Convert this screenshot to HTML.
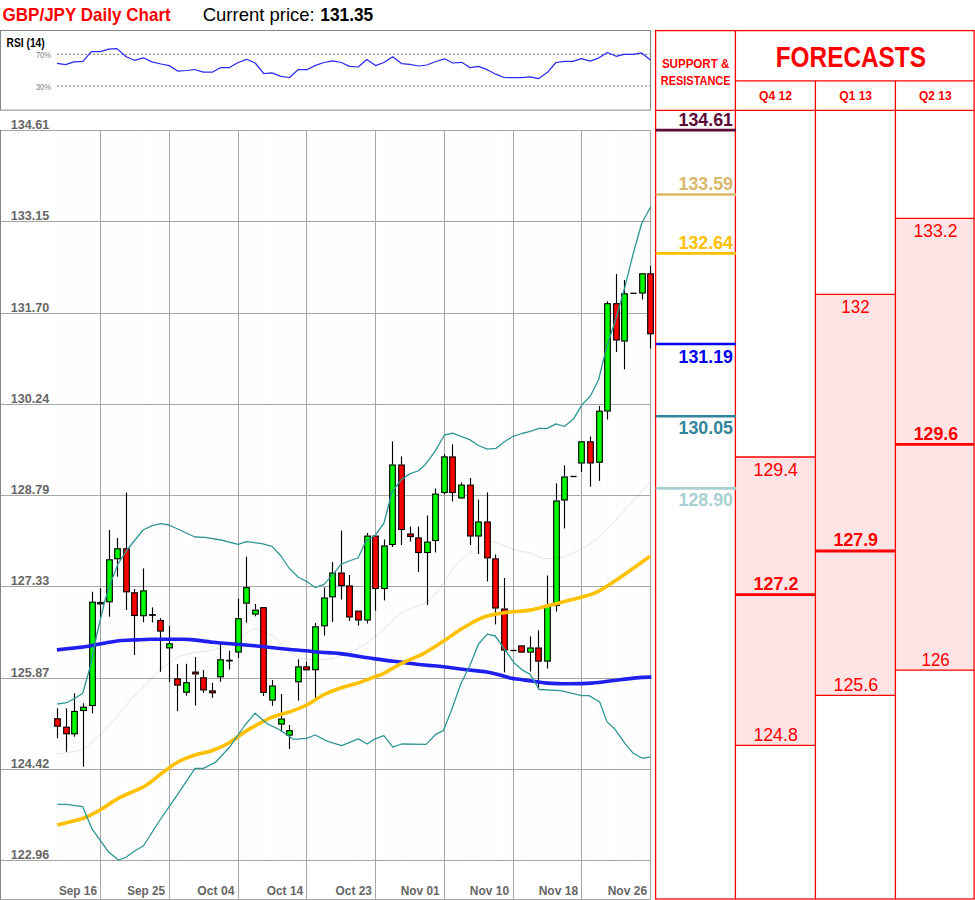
<!DOCTYPE html>
<html><head><meta charset="utf-8">
<style>
html,body{margin:0;padding:0;background:#fff;}
body{width:975px;height:900px;overflow:hidden;}
svg{display:block;font-family:"Liberation Sans", sans-serif;}
</style></head>
<body>
<svg width="975" height="900" viewBox="0 0 975 900">
<text x="2.5" y="20.9" font-size="18.5" fill="#ff0000" font-weight="bold" text-anchor="start" textLength="168.2" lengthAdjust="spacingAndGlyphs" >GBP/JPY Daily Chart</text>
<text x="202.7" y="20.9" font-size="18.5" fill="#000" font-weight="normal" text-anchor="start" textLength="112" lengthAdjust="spacingAndGlyphs" >Current price:</text>
<text x="320.3" y="20.9" font-size="18.5" fill="#000" font-weight="bold" text-anchor="start" textLength="52.9" lengthAdjust="spacingAndGlyphs" >131.35</text>
<rect x="0.5" y="30.5" width="650" height="79.6" fill="#fff" stroke="#868686" stroke-width="1"/>
<text x="6.6" y="47.2" font-size="11.9" fill="#000" font-weight="bold" text-anchor="start" textLength="38.1" lengthAdjust="spacingAndGlyphs" >RSI (14)</text>
<text x="35.9" y="58.2" font-size="9" fill="#808080" font-weight="normal" text-anchor="start" textLength="15" lengthAdjust="spacingAndGlyphs" >70%</text>
<text x="35.9" y="90.2" font-size="9" fill="#808080" font-weight="normal" text-anchor="start" textLength="15" lengthAdjust="spacingAndGlyphs" >30%</text>
<line x1="57" y1="54.3" x2="650" y2="54.3" stroke="#7f7f7f" stroke-width="1" stroke-dasharray="2.2,1.8"/>
<line x1="57" y1="86.1" x2="650" y2="86.1" stroke="#7f7f7f" stroke-width="1" stroke-dasharray="2.2,1.8"/>
<polyline points="57.0,63.4 65.6,64.6 73.8,61.9 83.0,61.3 91.3,51.7 100.5,51.7 108.7,49.2 116.9,48.6 126.2,56.8 134.4,60.3 143.6,57.8 151.8,61.9 161.0,64.0 169.2,65.6 178.0,71.2 186.7,70.5 194.5,69.5 203.3,72.2 212.2,72.2 220.8,67.5 229.4,67.5 238.2,62.5 246.8,59.3 255.2,63.0 263.8,73.6 272.0,72.8 280.9,76.3 289.5,77.5 298.1,69.7 306.9,69.7 315.5,65.4 324.0,62.5 332.6,60.9 341.2,62.5 349.6,66.4 358.2,67.0 366.8,59.5 375.6,65.6 383.8,62.5 392.7,56.8 401.5,63.6 409.7,64.4 418.6,66.0 426.8,65.0 435.8,61.5 444.6,58.8 452.8,63.0 461.6,62.3 470.3,67.7 478.5,66.4 487.1,69.7 495.9,74.2 504.1,77.5 513.3,77.7 521.5,77.7 530.2,76.9 538.4,78.7 547.2,72.6 556.0,62.5 564.6,61.3 572.8,61.4 581.5,58.6 590.3,61.1 599.0,57.8 607.4,52.5 616.2,56.3 624.1,54.4 632.8,54.4 641.5,52.9 650.5,59.9" fill="none" stroke="#2a2af5" stroke-width="1.25" stroke-linejoin="round"/>
<line x1="57.50" y1="130" x2="57.50" y2="860" stroke="#fbfbfb" stroke-width="1"/>
<line x1="66.50" y1="130" x2="66.50" y2="860" stroke="#fbfbfb" stroke-width="1"/>
<line x1="74.50" y1="130" x2="74.50" y2="860" stroke="#fbfbfb" stroke-width="1"/>
<line x1="83.50" y1="130" x2="83.50" y2="860" stroke="#fbfbfb" stroke-width="1"/>
<line x1="92.50" y1="130" x2="92.50" y2="860" stroke="#fbfbfb" stroke-width="1"/>
<line x1="100.50" y1="130" x2="100.50" y2="860" stroke="#fbfbfb" stroke-width="1"/>
<line x1="109.50" y1="130" x2="109.50" y2="860" stroke="#fbfbfb" stroke-width="1"/>
<line x1="117.50" y1="130" x2="117.50" y2="860" stroke="#fbfbfb" stroke-width="1"/>
<line x1="126.50" y1="130" x2="126.50" y2="860" stroke="#fbfbfb" stroke-width="1"/>
<line x1="134.50" y1="130" x2="134.50" y2="860" stroke="#fbfbfb" stroke-width="1"/>
<line x1="143.50" y1="130" x2="143.50" y2="860" stroke="#fbfbfb" stroke-width="1"/>
<line x1="152.50" y1="130" x2="152.50" y2="860" stroke="#fbfbfb" stroke-width="1"/>
<line x1="160.50" y1="130" x2="160.50" y2="860" stroke="#fbfbfb" stroke-width="1"/>
<line x1="169.50" y1="130" x2="169.50" y2="860" stroke="#fbfbfb" stroke-width="1"/>
<line x1="177.50" y1="130" x2="177.50" y2="860" stroke="#fbfbfb" stroke-width="1"/>
<line x1="186.50" y1="130" x2="186.50" y2="860" stroke="#fbfbfb" stroke-width="1"/>
<line x1="195.50" y1="130" x2="195.50" y2="860" stroke="#fbfbfb" stroke-width="1"/>
<line x1="203.50" y1="130" x2="203.50" y2="860" stroke="#fbfbfb" stroke-width="1"/>
<line x1="212.50" y1="130" x2="212.50" y2="860" stroke="#fbfbfb" stroke-width="1"/>
<line x1="220.50" y1="130" x2="220.50" y2="860" stroke="#fbfbfb" stroke-width="1"/>
<line x1="229.50" y1="130" x2="229.50" y2="860" stroke="#fbfbfb" stroke-width="1"/>
<line x1="238.50" y1="130" x2="238.50" y2="860" stroke="#fbfbfb" stroke-width="1"/>
<line x1="246.50" y1="130" x2="246.50" y2="860" stroke="#fbfbfb" stroke-width="1"/>
<line x1="255.50" y1="130" x2="255.50" y2="860" stroke="#fbfbfb" stroke-width="1"/>
<line x1="263.50" y1="130" x2="263.50" y2="860" stroke="#fbfbfb" stroke-width="1"/>
<line x1="272.50" y1="130" x2="272.50" y2="860" stroke="#fbfbfb" stroke-width="1"/>
<line x1="281.50" y1="130" x2="281.50" y2="860" stroke="#fbfbfb" stroke-width="1"/>
<line x1="289.50" y1="130" x2="289.50" y2="860" stroke="#fbfbfb" stroke-width="1"/>
<line x1="298.50" y1="130" x2="298.50" y2="860" stroke="#fbfbfb" stroke-width="1"/>
<line x1="306.50" y1="130" x2="306.50" y2="860" stroke="#fbfbfb" stroke-width="1"/>
<line x1="315.50" y1="130" x2="315.50" y2="860" stroke="#fbfbfb" stroke-width="1"/>
<line x1="324.50" y1="130" x2="324.50" y2="860" stroke="#fbfbfb" stroke-width="1"/>
<line x1="332.50" y1="130" x2="332.50" y2="860" stroke="#fbfbfb" stroke-width="1"/>
<line x1="341.50" y1="130" x2="341.50" y2="860" stroke="#fbfbfb" stroke-width="1"/>
<line x1="349.50" y1="130" x2="349.50" y2="860" stroke="#fbfbfb" stroke-width="1"/>
<line x1="358.50" y1="130" x2="358.50" y2="860" stroke="#fbfbfb" stroke-width="1"/>
<line x1="367.50" y1="130" x2="367.50" y2="860" stroke="#fbfbfb" stroke-width="1"/>
<line x1="375.50" y1="130" x2="375.50" y2="860" stroke="#fbfbfb" stroke-width="1"/>
<line x1="384.50" y1="130" x2="384.50" y2="860" stroke="#fbfbfb" stroke-width="1"/>
<line x1="392.50" y1="130" x2="392.50" y2="860" stroke="#fbfbfb" stroke-width="1"/>
<line x1="401.50" y1="130" x2="401.50" y2="860" stroke="#fbfbfb" stroke-width="1"/>
<line x1="410.50" y1="130" x2="410.50" y2="860" stroke="#fbfbfb" stroke-width="1"/>
<line x1="418.50" y1="130" x2="418.50" y2="860" stroke="#fbfbfb" stroke-width="1"/>
<line x1="427.50" y1="130" x2="427.50" y2="860" stroke="#fbfbfb" stroke-width="1"/>
<line x1="435.50" y1="130" x2="435.50" y2="860" stroke="#fbfbfb" stroke-width="1"/>
<line x1="444.50" y1="130" x2="444.50" y2="860" stroke="#fbfbfb" stroke-width="1"/>
<line x1="452.50" y1="130" x2="452.50" y2="860" stroke="#fbfbfb" stroke-width="1"/>
<line x1="461.50" y1="130" x2="461.50" y2="860" stroke="#fbfbfb" stroke-width="1"/>
<line x1="470.50" y1="130" x2="470.50" y2="860" stroke="#fbfbfb" stroke-width="1"/>
<line x1="478.50" y1="130" x2="478.50" y2="860" stroke="#fbfbfb" stroke-width="1"/>
<line x1="487.50" y1="130" x2="487.50" y2="860" stroke="#fbfbfb" stroke-width="1"/>
<line x1="495.50" y1="130" x2="495.50" y2="860" stroke="#fbfbfb" stroke-width="1"/>
<line x1="504.50" y1="130" x2="504.50" y2="860" stroke="#fbfbfb" stroke-width="1"/>
<line x1="513.50" y1="130" x2="513.50" y2="860" stroke="#fbfbfb" stroke-width="1"/>
<line x1="521.50" y1="130" x2="521.50" y2="860" stroke="#fbfbfb" stroke-width="1"/>
<line x1="530.50" y1="130" x2="530.50" y2="860" stroke="#fbfbfb" stroke-width="1"/>
<line x1="538.50" y1="130" x2="538.50" y2="860" stroke="#fbfbfb" stroke-width="1"/>
<line x1="547.50" y1="130" x2="547.50" y2="860" stroke="#fbfbfb" stroke-width="1"/>
<line x1="556.50" y1="130" x2="556.50" y2="860" stroke="#fbfbfb" stroke-width="1"/>
<line x1="564.50" y1="130" x2="564.50" y2="860" stroke="#fbfbfb" stroke-width="1"/>
<line x1="573.50" y1="130" x2="573.50" y2="860" stroke="#fbfbfb" stroke-width="1"/>
<line x1="581.50" y1="130" x2="581.50" y2="860" stroke="#fbfbfb" stroke-width="1"/>
<line x1="590.50" y1="130" x2="590.50" y2="860" stroke="#fbfbfb" stroke-width="1"/>
<line x1="599.50" y1="130" x2="599.50" y2="860" stroke="#fbfbfb" stroke-width="1"/>
<line x1="607.50" y1="130" x2="607.50" y2="860" stroke="#fbfbfb" stroke-width="1"/>
<line x1="616.50" y1="130" x2="616.50" y2="860" stroke="#fbfbfb" stroke-width="1"/>
<line x1="624.50" y1="130" x2="624.50" y2="860" stroke="#fbfbfb" stroke-width="1"/>
<line x1="633.50" y1="130" x2="633.50" y2="860" stroke="#fbfbfb" stroke-width="1"/>
<line x1="642.50" y1="130" x2="642.50" y2="860" stroke="#fbfbfb" stroke-width="1"/>
<line x1="650.50" y1="130" x2="650.50" y2="860" stroke="#fbfbfb" stroke-width="1"/>
<line x1="0" y1="130.5" x2="651" y2="130.5" stroke="#a6a6a6" stroke-width="1"/>
<line x1="0" y1="221.5" x2="651" y2="221.5" stroke="#a6a6a6" stroke-width="1"/>
<line x1="0" y1="313.5" x2="651" y2="313.5" stroke="#a6a6a6" stroke-width="1"/>
<line x1="0" y1="404.5" x2="651" y2="404.5" stroke="#a6a6a6" stroke-width="1"/>
<line x1="0" y1="495.5" x2="651" y2="495.5" stroke="#a6a6a6" stroke-width="1"/>
<line x1="0" y1="586.5" x2="651" y2="586.5" stroke="#a6a6a6" stroke-width="1"/>
<line x1="0" y1="678.5" x2="651" y2="678.5" stroke="#a6a6a6" stroke-width="1"/>
<line x1="0" y1="769.5" x2="651" y2="769.5" stroke="#a6a6a6" stroke-width="1"/>
<line x1="0" y1="860.5" x2="651" y2="860.5" stroke="#a6a6a6" stroke-width="1"/>
<line x1="100.5" y1="130" x2="100.5" y2="899" stroke="#a6a6a6" stroke-width="1"/>
<line x1="169.5" y1="130" x2="169.5" y2="899" stroke="#a6a6a6" stroke-width="1"/>
<line x1="238.5" y1="130" x2="238.5" y2="899" stroke="#a6a6a6" stroke-width="1"/>
<line x1="306.5" y1="130" x2="306.5" y2="899" stroke="#a6a6a6" stroke-width="1"/>
<line x1="375.5" y1="130" x2="375.5" y2="899" stroke="#a6a6a6" stroke-width="1"/>
<line x1="444.5" y1="130" x2="444.5" y2="899" stroke="#a6a6a6" stroke-width="1"/>
<line x1="513.5" y1="130" x2="513.5" y2="899" stroke="#a6a6a6" stroke-width="1"/>
<line x1="581.5" y1="130" x2="581.5" y2="899" stroke="#a6a6a6" stroke-width="1"/>
<line x1="0.5" y1="130" x2="0.5" y2="899" stroke="#868686" stroke-width="1"/>
<line x1="650.5" y1="130" x2="650.5" y2="899" stroke="#a6a6a6" stroke-width="1"/>
<line x1="0" y1="899.5" x2="651" y2="899.5" stroke="#a6a6a6" stroke-width="1"/>
<text x="49.3" y="129.2" font-size="12.6" fill="#666666" font-weight="bold" text-anchor="end" textLength="38.5" lengthAdjust="spacingAndGlyphs" >134.61</text>
<text x="49.3" y="220.2" font-size="12.6" fill="#666666" font-weight="bold" text-anchor="end" textLength="38.5" lengthAdjust="spacingAndGlyphs" >133.15</text>
<text x="49.3" y="312.2" font-size="12.6" fill="#666666" font-weight="bold" text-anchor="end" textLength="38.5" lengthAdjust="spacingAndGlyphs" >131.70</text>
<text x="49.3" y="403.2" font-size="12.6" fill="#666666" font-weight="bold" text-anchor="end" textLength="38.5" lengthAdjust="spacingAndGlyphs" >130.24</text>
<text x="49.3" y="494.2" font-size="12.6" fill="#666666" font-weight="bold" text-anchor="end" textLength="38.5" lengthAdjust="spacingAndGlyphs" >128.79</text>
<text x="49.3" y="585.2" font-size="12.6" fill="#666666" font-weight="bold" text-anchor="end" textLength="38.5" lengthAdjust="spacingAndGlyphs" >127.33</text>
<text x="49.3" y="677.2" font-size="12.6" fill="#666666" font-weight="bold" text-anchor="end" textLength="38.5" lengthAdjust="spacingAndGlyphs" >125.87</text>
<text x="49.3" y="768.2" font-size="12.6" fill="#666666" font-weight="bold" text-anchor="end" textLength="38.5" lengthAdjust="spacingAndGlyphs" >124.42</text>
<text x="49.3" y="859.2" font-size="12.6" fill="#666666" font-weight="bold" text-anchor="end" textLength="38.5" lengthAdjust="spacingAndGlyphs" >122.96</text>
<text x="97" y="894.9" font-size="12.8" fill="#666666" font-weight="bold" text-anchor="end" textLength="38.1" lengthAdjust="spacingAndGlyphs" >Sep 16</text>
<text x="165" y="894.9" font-size="12.8" fill="#666666" font-weight="bold" text-anchor="end" textLength="37.7" lengthAdjust="spacingAndGlyphs" >Sep 25</text>
<text x="234.6" y="894.9" font-size="12.8" fill="#666666" font-weight="bold" text-anchor="end" textLength="37.3" lengthAdjust="spacingAndGlyphs" >Oct 04</text>
<text x="303.2" y="894.9" font-size="12.8" fill="#666666" font-weight="bold" text-anchor="end" textLength="36.5" lengthAdjust="spacingAndGlyphs" >Oct 14</text>
<text x="372" y="894.9" font-size="12.8" fill="#666666" font-weight="bold" text-anchor="end" textLength="36.4" lengthAdjust="spacingAndGlyphs" >Oct 23</text>
<text x="439.7" y="894.9" font-size="12.8" fill="#666666" font-weight="bold" text-anchor="end" textLength="38.9" lengthAdjust="spacingAndGlyphs" >Nov 01</text>
<text x="509.1" y="894.9" font-size="12.8" fill="#666666" font-weight="bold" text-anchor="end" textLength="39.3" lengthAdjust="spacingAndGlyphs" >Nov 10</text>
<text x="578.1" y="894.9" font-size="12.8" fill="#666666" font-weight="bold" text-anchor="end" textLength="39.4" lengthAdjust="spacingAndGlyphs" >Nov 18</text>
<text x="647.1" y="894.9" font-size="12.8" fill="#666666" font-weight="bold" text-anchor="end" textLength="39.4" lengthAdjust="spacingAndGlyphs" >Nov 26</text>
<line x1="57.5" y1="708.3" x2="57.5" y2="718.3" stroke="#000" stroke-width="1.15"/>
<line x1="57.5" y1="726.7" x2="57.5" y2="738.3" stroke="#000" stroke-width="1.15"/>
<rect x="54.70" y="718.8" width="5.6" height="7.4" fill="#ff0000" stroke="#000" stroke-width="1.15"/>
<line x1="66.5" y1="708.3" x2="66.5" y2="726.7" stroke="#000" stroke-width="1.15"/>
<line x1="66.5" y1="734.3" x2="66.5" y2="751.7" stroke="#000" stroke-width="1.15"/>
<rect x="63.70" y="727.2" width="5.6" height="6.6" fill="#ff0000" stroke="#000" stroke-width="1.15"/>
<line x1="74.5" y1="693.3" x2="74.5" y2="711" stroke="#000" stroke-width="1.15"/>
<line x1="74.5" y1="734.3" x2="74.5" y2="736.7" stroke="#000" stroke-width="1.15"/>
<rect x="71.70" y="711.5" width="5.6" height="22.3" fill="#00ff00" stroke="#000" stroke-width="1.15"/>
<line x1="83.5" y1="703.3" x2="83.5" y2="706.7" stroke="#000" stroke-width="1.15"/>
<line x1="83.5" y1="711" x2="83.5" y2="766.7" stroke="#000" stroke-width="1.15"/>
<rect x="80.70" y="707.2" width="5.6" height="3.3" fill="#00ff00" stroke="#000" stroke-width="1.15"/>
<line x1="92.5" y1="591.7" x2="92.5" y2="601.7" stroke="#000" stroke-width="1.15"/>
<line x1="92.5" y1="706" x2="92.5" y2="713.3" stroke="#000" stroke-width="1.15"/>
<rect x="89.70" y="602.2" width="5.6" height="103.3" fill="#00ff00" stroke="#000" stroke-width="1.15"/>
<line x1="100.5" y1="588" x2="100.5" y2="602.0" stroke="#000" stroke-width="1.15"/>
<line x1="100.5" y1="604.4" x2="100.5" y2="617" stroke="#000" stroke-width="1.15"/>
<rect x="97.70" y="602.5" width="5.6" height="1.4" fill="#00ff00" stroke="#000" stroke-width="1.15"/>
<line x1="109.5" y1="530" x2="109.5" y2="559.3" stroke="#000" stroke-width="1.15"/>
<line x1="109.5" y1="602.3" x2="109.5" y2="616.7" stroke="#000" stroke-width="1.15"/>
<rect x="106.70" y="559.8" width="5.6" height="42.0" fill="#00ff00" stroke="#000" stroke-width="1.15"/>
<line x1="117.5" y1="538" x2="117.5" y2="548.3" stroke="#000" stroke-width="1.15"/>
<line x1="117.5" y1="559.3" x2="117.5" y2="576.7" stroke="#000" stroke-width="1.15"/>
<rect x="114.70" y="548.8" width="5.6" height="10.0" fill="#00ff00" stroke="#000" stroke-width="1.15"/>
<line x1="126.5" y1="492.7" x2="126.5" y2="548.3" stroke="#000" stroke-width="1.15"/>
<line x1="126.5" y1="592.3" x2="126.5" y2="610" stroke="#000" stroke-width="1.15"/>
<rect x="123.70" y="548.8" width="5.6" height="43.0" fill="#ff0000" stroke="#000" stroke-width="1.15"/>
<line x1="134.5" y1="589" x2="134.5" y2="592.3" stroke="#000" stroke-width="1.15"/>
<line x1="134.5" y1="616" x2="134.5" y2="655" stroke="#000" stroke-width="1.15"/>
<rect x="131.70" y="592.8" width="5.6" height="22.7" fill="#ff0000" stroke="#000" stroke-width="1.15"/>
<line x1="143.5" y1="568.4" x2="143.5" y2="590.4" stroke="#000" stroke-width="1.15"/>
<line x1="143.5" y1="616.2" x2="143.5" y2="622.2" stroke="#000" stroke-width="1.15"/>
<rect x="140.70" y="590.9" width="5.6" height="24.8" fill="#00ff00" stroke="#000" stroke-width="1.15"/>
<line x1="152.5" y1="607.4" x2="152.5" y2="622.4" stroke="#000" stroke-width="1.15"/>
<line x1="149.20" y1="615.0" x2="155.80" y2="615.0" stroke="#000" stroke-width="1.8"/>
<line x1="160.5" y1="618.2" x2="160.5" y2="620" stroke="#000" stroke-width="1.15"/>
<line x1="160.5" y1="631.6" x2="160.5" y2="671.8" stroke="#000" stroke-width="1.15"/>
<rect x="157.70" y="620.5" width="5.6" height="10.6" fill="#ff0000" stroke="#000" stroke-width="1.15"/>
<line x1="169.5" y1="626" x2="169.5" y2="643.3" stroke="#000" stroke-width="1.15"/>
<line x1="169.5" y1="648.4" x2="169.5" y2="681.8" stroke="#000" stroke-width="1.15"/>
<rect x="166.70" y="643.8" width="5.6" height="4.1" fill="#00ff00" stroke="#000" stroke-width="1.15"/>
<line x1="177.5" y1="664" x2="177.5" y2="678.4" stroke="#000" stroke-width="1.15"/>
<line x1="177.5" y1="685.6" x2="177.5" y2="711.1" stroke="#000" stroke-width="1.15"/>
<rect x="174.70" y="678.9" width="5.6" height="6.2" fill="#ff0000" stroke="#000" stroke-width="1.15"/>
<line x1="186.5" y1="663.8" x2="186.5" y2="682.2" stroke="#000" stroke-width="1.15"/>
<line x1="186.5" y1="692.7" x2="186.5" y2="695.6" stroke="#000" stroke-width="1.15"/>
<rect x="183.70" y="682.7" width="5.6" height="9.5" fill="#00ff00" stroke="#000" stroke-width="1.15"/>
<line x1="195.5" y1="657" x2="195.5" y2="671.6" stroke="#000" stroke-width="1.15"/>
<line x1="195.5" y1="674.4" x2="195.5" y2="705.6" stroke="#000" stroke-width="1.15"/>
<rect x="192.70" y="672.1" width="5.6" height="1.8" fill="#ff0000" stroke="#000" stroke-width="1.15"/>
<line x1="203.5" y1="670" x2="203.5" y2="677.3" stroke="#000" stroke-width="1.15"/>
<line x1="203.5" y1="690.4" x2="203.5" y2="692.9" stroke="#000" stroke-width="1.15"/>
<rect x="200.70" y="677.8" width="5.6" height="12.1" fill="#ff0000" stroke="#000" stroke-width="1.15"/>
<line x1="212.5" y1="682.9" x2="212.5" y2="690.4" stroke="#000" stroke-width="1.15"/>
<line x1="212.5" y1="693.3" x2="212.5" y2="697.8" stroke="#000" stroke-width="1.15"/>
<rect x="209.70" y="690.9" width="5.6" height="1.9" fill="#ff0000" stroke="#000" stroke-width="1.15"/>
<line x1="220.5" y1="644" x2="220.5" y2="659.3" stroke="#000" stroke-width="1.15"/>
<line x1="220.5" y1="677.3" x2="220.5" y2="681.8" stroke="#000" stroke-width="1.15"/>
<rect x="217.70" y="659.8" width="5.6" height="17.0" fill="#00ff00" stroke="#000" stroke-width="1.15"/>
<line x1="229.5" y1="650.7" x2="229.5" y2="669.6" stroke="#000" stroke-width="1.15"/>
<line x1="226.20" y1="660.6" x2="232.80" y2="660.6" stroke="#000" stroke-width="1.8"/>
<line x1="238.5" y1="598.7" x2="238.5" y2="618.2" stroke="#000" stroke-width="1.15"/>
<line x1="238.5" y1="652.5" x2="238.5" y2="657.8" stroke="#000" stroke-width="1.15"/>
<rect x="235.70" y="618.7" width="5.6" height="33.3" fill="#00ff00" stroke="#000" stroke-width="1.15"/>
<line x1="246.5" y1="556.6" x2="246.5" y2="587.2" stroke="#000" stroke-width="1.15"/>
<line x1="246.5" y1="603.6" x2="246.5" y2="622.6" stroke="#000" stroke-width="1.15"/>
<rect x="243.70" y="587.7" width="5.6" height="15.4" fill="#00ff00" stroke="#000" stroke-width="1.15"/>
<line x1="255.5" y1="604" x2="255.5" y2="609.7" stroke="#000" stroke-width="1.15"/>
<line x1="255.5" y1="614.6" x2="255.5" y2="616.3" stroke="#000" stroke-width="1.15"/>
<rect x="252.70" y="610.2" width="5.6" height="3.9" fill="#00ff00" stroke="#000" stroke-width="1.15"/>
<line x1="263.5" y1="692.8" x2="263.5" y2="696" stroke="#000" stroke-width="1.15"/>
<rect x="260.70" y="607.7" width="5.6" height="84.6" fill="#ff0000" stroke="#000" stroke-width="1.15"/>
<line x1="272.5" y1="680" x2="272.5" y2="685.5" stroke="#000" stroke-width="1.15"/>
<line x1="272.5" y1="700.6" x2="272.5" y2="705.8" stroke="#000" stroke-width="1.15"/>
<rect x="269.70" y="686.0" width="5.6" height="14.1" fill="#00ff00" stroke="#000" stroke-width="1.15"/>
<line x1="281.5" y1="694" x2="281.5" y2="718.5" stroke="#000" stroke-width="1.15"/>
<line x1="281.5" y1="724.6" x2="281.5" y2="732" stroke="#000" stroke-width="1.15"/>
<rect x="278.70" y="719.0" width="5.6" height="5.1" fill="#00ff00" stroke="#000" stroke-width="1.15"/>
<line x1="289.5" y1="725" x2="289.5" y2="730.2" stroke="#000" stroke-width="1.15"/>
<line x1="289.5" y1="735.6" x2="289.5" y2="749" stroke="#000" stroke-width="1.15"/>
<rect x="286.70" y="730.7" width="5.6" height="4.4" fill="#00ff00" stroke="#000" stroke-width="1.15"/>
<line x1="298.5" y1="659.3" x2="298.5" y2="666.4" stroke="#000" stroke-width="1.15"/>
<line x1="298.5" y1="682.3" x2="298.5" y2="700.6" stroke="#000" stroke-width="1.15"/>
<rect x="295.70" y="666.9" width="5.6" height="14.9" fill="#00ff00" stroke="#000" stroke-width="1.15"/>
<line x1="306.5" y1="661.8" x2="306.5" y2="666.4" stroke="#000" stroke-width="1.15"/>
<rect x="303.70" y="666.9" width="5.6" height="2.9" fill="#ff0000" stroke="#000" stroke-width="1.15"/>
<line x1="315.5" y1="623" x2="315.5" y2="626.3" stroke="#000" stroke-width="1.15"/>
<line x1="315.5" y1="670.2" x2="315.5" y2="699" stroke="#000" stroke-width="1.15"/>
<rect x="312.70" y="626.8" width="5.6" height="42.9" fill="#00ff00" stroke="#000" stroke-width="1.15"/>
<line x1="324.5" y1="587.5" x2="324.5" y2="597.5" stroke="#000" stroke-width="1.15"/>
<line x1="324.5" y1="626.3" x2="324.5" y2="635.5" stroke="#000" stroke-width="1.15"/>
<rect x="321.70" y="598.0" width="5.6" height="27.8" fill="#00ff00" stroke="#000" stroke-width="1.15"/>
<line x1="332.5" y1="562" x2="332.5" y2="572.5" stroke="#000" stroke-width="1.15"/>
<line x1="332.5" y1="597.3" x2="332.5" y2="622" stroke="#000" stroke-width="1.15"/>
<rect x="329.70" y="573.0" width="5.6" height="23.8" fill="#00ff00" stroke="#000" stroke-width="1.15"/>
<line x1="341.5" y1="530.5" x2="341.5" y2="572.5" stroke="#000" stroke-width="1.15"/>
<line x1="341.5" y1="586" x2="341.5" y2="599.5" stroke="#000" stroke-width="1.15"/>
<rect x="338.70" y="573.0" width="5.6" height="12.5" fill="#ff0000" stroke="#000" stroke-width="1.15"/>
<line x1="349.5" y1="575" x2="349.5" y2="585.4" stroke="#000" stroke-width="1.15"/>
<line x1="349.5" y1="617.5" x2="349.5" y2="621" stroke="#000" stroke-width="1.15"/>
<rect x="346.70" y="585.9" width="5.6" height="31.1" fill="#ff0000" stroke="#000" stroke-width="1.15"/>
<line x1="358.5" y1="620.5" x2="358.5" y2="625.6" stroke="#000" stroke-width="1.15"/>
<rect x="355.70" y="611.1" width="5.6" height="8.9" fill="#ff0000" stroke="#000" stroke-width="1.15"/>
<line x1="367.5" y1="533" x2="367.5" y2="535.6" stroke="#000" stroke-width="1.15"/>
<line x1="367.5" y1="620.5" x2="367.5" y2="623.5" stroke="#000" stroke-width="1.15"/>
<rect x="364.70" y="536.1" width="5.6" height="83.9" fill="#00ff00" stroke="#000" stroke-width="1.15"/>
<line x1="375.5" y1="589" x2="375.5" y2="610.6" stroke="#000" stroke-width="1.15"/>
<rect x="372.70" y="536.1" width="5.6" height="52.4" fill="#ff0000" stroke="#000" stroke-width="1.15"/>
<line x1="384.5" y1="539.5" x2="384.5" y2="545.5" stroke="#000" stroke-width="1.15"/>
<line x1="384.5" y1="589" x2="384.5" y2="600.4" stroke="#000" stroke-width="1.15"/>
<rect x="381.70" y="546.0" width="5.6" height="42.5" fill="#00ff00" stroke="#000" stroke-width="1.15"/>
<line x1="392.5" y1="441.4" x2="392.5" y2="464.5" stroke="#000" stroke-width="1.15"/>
<line x1="392.5" y1="545" x2="392.5" y2="547" stroke="#000" stroke-width="1.15"/>
<rect x="389.70" y="465.0" width="5.6" height="79.5" fill="#00ff00" stroke="#000" stroke-width="1.15"/>
<line x1="401.5" y1="456.4" x2="401.5" y2="464.5" stroke="#000" stroke-width="1.15"/>
<line x1="401.5" y1="530" x2="401.5" y2="545" stroke="#000" stroke-width="1.15"/>
<rect x="398.70" y="465.0" width="5.6" height="64.5" fill="#ff0000" stroke="#000" stroke-width="1.15"/>
<line x1="410.5" y1="526.6" x2="410.5" y2="533.5" stroke="#000" stroke-width="1.15"/>
<line x1="410.5" y1="537" x2="410.5" y2="541.6" stroke="#000" stroke-width="1.15"/>
<rect x="407.70" y="534.0" width="5.6" height="2.5" fill="#ff0000" stroke="#000" stroke-width="1.15"/>
<line x1="418.5" y1="526.6" x2="418.5" y2="537.4" stroke="#000" stroke-width="1.15"/>
<line x1="418.5" y1="553" x2="418.5" y2="572" stroke="#000" stroke-width="1.15"/>
<rect x="415.70" y="537.9" width="5.6" height="14.6" fill="#ff0000" stroke="#000" stroke-width="1.15"/>
<line x1="427.5" y1="515.5" x2="427.5" y2="541.6" stroke="#000" stroke-width="1.15"/>
<line x1="427.5" y1="553" x2="427.5" y2="605" stroke="#000" stroke-width="1.15"/>
<rect x="424.70" y="542.1" width="5.6" height="10.4" fill="#00ff00" stroke="#000" stroke-width="1.15"/>
<line x1="435.5" y1="488.5" x2="435.5" y2="493.6" stroke="#000" stroke-width="1.15"/>
<line x1="435.5" y1="541" x2="435.5" y2="552.4" stroke="#000" stroke-width="1.15"/>
<rect x="432.70" y="494.1" width="5.6" height="46.4" fill="#00ff00" stroke="#000" stroke-width="1.15"/>
<line x1="444.5" y1="454" x2="444.5" y2="456.4" stroke="#000" stroke-width="1.15"/>
<line x1="444.5" y1="493" x2="444.5" y2="494.5" stroke="#000" stroke-width="1.15"/>
<rect x="441.70" y="456.9" width="5.6" height="35.6" fill="#00ff00" stroke="#000" stroke-width="1.15"/>
<line x1="452.5" y1="444.4" x2="452.5" y2="456.4" stroke="#000" stroke-width="1.15"/>
<line x1="452.5" y1="493" x2="452.5" y2="501.4" stroke="#000" stroke-width="1.15"/>
<rect x="449.70" y="456.9" width="5.6" height="35.6" fill="#ff0000" stroke="#000" stroke-width="1.15"/>
<line x1="461.5" y1="482.5" x2="461.5" y2="484.6" stroke="#000" stroke-width="1.15"/>
<line x1="461.5" y1="498.4" x2="461.5" y2="499" stroke="#000" stroke-width="1.15"/>
<rect x="458.70" y="485.1" width="5.6" height="12.8" fill="#00ff00" stroke="#000" stroke-width="1.15"/>
<line x1="470.5" y1="478" x2="470.5" y2="484.6" stroke="#000" stroke-width="1.15"/>
<line x1="470.5" y1="536.5" x2="470.5" y2="545" stroke="#000" stroke-width="1.15"/>
<rect x="467.70" y="485.1" width="5.6" height="50.9" fill="#ff0000" stroke="#000" stroke-width="1.15"/>
<line x1="478.5" y1="499.6" x2="478.5" y2="521.5" stroke="#000" stroke-width="1.15"/>
<line x1="478.5" y1="536.5" x2="478.5" y2="554" stroke="#000" stroke-width="1.15"/>
<rect x="475.70" y="522.0" width="5.6" height="14.0" fill="#00ff00" stroke="#000" stroke-width="1.15"/>
<line x1="487.5" y1="492.4" x2="487.5" y2="521.5" stroke="#000" stroke-width="1.15"/>
<line x1="487.5" y1="558.4" x2="487.5" y2="581.5" stroke="#000" stroke-width="1.15"/>
<rect x="484.70" y="522.0" width="5.6" height="35.9" fill="#ff0000" stroke="#000" stroke-width="1.15"/>
<line x1="495.5" y1="554.5" x2="495.5" y2="558.4" stroke="#000" stroke-width="1.15"/>
<line x1="495.5" y1="608.5" x2="495.5" y2="624.4" stroke="#000" stroke-width="1.15"/>
<rect x="492.70" y="558.9" width="5.6" height="49.1" fill="#ff0000" stroke="#000" stroke-width="1.15"/>
<line x1="504.5" y1="578" x2="504.5" y2="608.5" stroke="#000" stroke-width="1.15"/>
<line x1="504.5" y1="650.5" x2="504.5" y2="672.4" stroke="#000" stroke-width="1.15"/>
<rect x="501.70" y="609.0" width="5.6" height="41.0" fill="#ff0000" stroke="#000" stroke-width="1.15"/>
<line x1="510.40" y1="650.5" x2="516.60" y2="650.5" stroke="#000" stroke-width="1.3"/>
<line x1="521.5" y1="652.6" x2="521.5" y2="653" stroke="#000" stroke-width="1.15"/>
<rect x="518.70" y="645.9" width="5.6" height="6.2" fill="#ff0000" stroke="#000" stroke-width="1.15"/>
<line x1="530.5" y1="636.4" x2="530.5" y2="647.5" stroke="#000" stroke-width="1.15"/>
<line x1="530.5" y1="652.6" x2="530.5" y2="671.5" stroke="#000" stroke-width="1.15"/>
<rect x="527.70" y="648.0" width="5.6" height="4.1" fill="#00ff00" stroke="#000" stroke-width="1.15"/>
<line x1="538.5" y1="630.4" x2="538.5" y2="647.5" stroke="#000" stroke-width="1.15"/>
<line x1="538.5" y1="661.6" x2="538.5" y2="689.5" stroke="#000" stroke-width="1.15"/>
<rect x="535.70" y="648.0" width="5.6" height="13.1" fill="#ff0000" stroke="#000" stroke-width="1.15"/>
<line x1="547.5" y1="575.5" x2="547.5" y2="605.5" stroke="#000" stroke-width="1.15"/>
<line x1="547.5" y1="661.6" x2="547.5" y2="668.5" stroke="#000" stroke-width="1.15"/>
<rect x="544.70" y="606.0" width="5.6" height="55.1" fill="#00ff00" stroke="#000" stroke-width="1.15"/>
<line x1="556.5" y1="483.4" x2="556.5" y2="500.5" stroke="#000" stroke-width="1.15"/>
<line x1="556.5" y1="606" x2="556.5" y2="611.5" stroke="#000" stroke-width="1.15"/>
<rect x="553.70" y="501.0" width="5.6" height="104.5" fill="#00ff00" stroke="#000" stroke-width="1.15"/>
<line x1="564.5" y1="465.4" x2="564.5" y2="476.5" stroke="#000" stroke-width="1.15"/>
<line x1="564.5" y1="500.5" x2="564.5" y2="528.4" stroke="#000" stroke-width="1.15"/>
<rect x="561.70" y="477.0" width="5.6" height="23.0" fill="#00ff00" stroke="#000" stroke-width="1.15"/>
<line x1="570.40" y1="476.5" x2="576.60" y2="476.5" stroke="#000" stroke-width="1.3"/>
<line x1="581.5" y1="463.5" x2="581.5" y2="472" stroke="#000" stroke-width="1.15"/>
<rect x="578.70" y="441.8" width="5.6" height="21.2" fill="#00ff00" stroke="#000" stroke-width="1.15"/>
<line x1="590.5" y1="436.5" x2="590.5" y2="441.3" stroke="#000" stroke-width="1.15"/>
<line x1="590.5" y1="463.5" x2="590.5" y2="486.7" stroke="#000" stroke-width="1.15"/>
<rect x="587.70" y="441.8" width="5.6" height="21.2" fill="#ff0000" stroke="#000" stroke-width="1.15"/>
<line x1="599.5" y1="406" x2="599.5" y2="410.7" stroke="#000" stroke-width="1.15"/>
<line x1="599.5" y1="462.7" x2="599.5" y2="480.8" stroke="#000" stroke-width="1.15"/>
<rect x="596.70" y="411.2" width="5.6" height="51.0" fill="#00ff00" stroke="#000" stroke-width="1.15"/>
<line x1="607.5" y1="301.3" x2="607.5" y2="303.2" stroke="#000" stroke-width="1.15"/>
<line x1="607.5" y1="411.5" x2="607.5" y2="419.5" stroke="#000" stroke-width="1.15"/>
<rect x="604.70" y="303.7" width="5.6" height="107.3" fill="#00ff00" stroke="#000" stroke-width="1.15"/>
<line x1="616.5" y1="273.9" x2="616.5" y2="303.2" stroke="#000" stroke-width="1.15"/>
<line x1="616.5" y1="340.5" x2="616.5" y2="352" stroke="#000" stroke-width="1.15"/>
<rect x="613.70" y="303.7" width="5.6" height="36.3" fill="#ff0000" stroke="#000" stroke-width="1.15"/>
<line x1="624.5" y1="280" x2="624.5" y2="293.3" stroke="#000" stroke-width="1.15"/>
<line x1="624.5" y1="341.5" x2="624.5" y2="369.3" stroke="#000" stroke-width="1.15"/>
<rect x="621.70" y="293.8" width="5.6" height="47.2" fill="#00ff00" stroke="#000" stroke-width="1.15"/>
<line x1="630.40" y1="293.3" x2="636.60" y2="293.3" stroke="#000" stroke-width="1.3"/>
<line x1="642.5" y1="293.5" x2="642.5" y2="299.5" stroke="#000" stroke-width="1.15"/>
<rect x="639.70" y="273.8" width="5.6" height="19.2" fill="#00ff00" stroke="#000" stroke-width="1.15"/>
<line x1="650.5" y1="265.9" x2="650.5" y2="273.3" stroke="#000" stroke-width="1.15"/>
<line x1="650.5" y1="334.3" x2="650.5" y2="348.5" stroke="#000" stroke-width="1.15"/>
<rect x="647.70" y="273.8" width="5.6" height="60.0" fill="#ff0000" stroke="#000" stroke-width="1.15"/>
<path d="M56.9,649.9 C59.6,649.6 67.8,648.7 73.1,648.1 C78.4,647.5 83.4,647.0 88.5,646.2 C93.6,645.4 98.7,644.1 103.8,643.2 C108.9,642.3 114.1,641.2 119.2,640.7 C124.3,640.2 129.5,640.1 134.6,639.9 C139.7,639.7 144.9,639.4 150.0,639.3 C155.1,639.2 160.3,639.3 165.4,639.3 C170.5,639.3 176.5,639.2 180.8,639.2 C185.2,639.2 186.1,639.1 191.5,639.6 C196.9,640.1 205.7,641.5 213.1,642.3 C220.5,643.1 228.5,643.6 236.2,644.2 C243.9,644.9 251.5,645.4 259.2,646.2 C266.9,647.0 274.6,648.0 282.3,648.8 C290.0,649.6 299.0,650.2 305.4,650.8 C311.8,651.4 314.9,651.8 320.8,652.3 C326.7,652.8 331.4,652.5 340.5,653.6 C349.6,654.7 364.9,657.4 375.3,658.9 C385.8,660.4 395.1,661.4 403.2,662.4 C411.3,663.4 417.5,664.3 424.2,665.0 C430.9,665.7 436.9,666.0 443.3,666.7 C449.7,667.4 455.2,668.4 462.5,669.3 C469.8,670.2 480.6,671.0 486.9,672.0 C493.1,673.0 496.1,674.1 500.0,675.1 C503.9,676.1 505.9,677.1 510.0,677.9 C514.1,678.7 518.7,679.2 524.9,680.1 C531.1,681.0 539.8,682.5 547.2,683.1 C554.6,683.7 562.1,683.8 569.5,683.8 C576.9,683.8 584.3,683.6 591.8,683.1 C599.2,682.6 606.8,681.4 614.2,680.5 C621.7,679.6 630.3,678.5 636.5,677.9 C642.7,677.3 648.9,677.2 651.4,677.1" fill="none" stroke="#1f1ff0" stroke-width="3.6" stroke-linejoin="round"/>
<path d="M57.3,825.0 C61.6,823.9 76.2,820.8 83.3,818.3 C90.4,815.8 94.2,813.3 100.0,810.0 C105.8,806.7 110.8,802.3 118.3,798.3 C125.8,794.3 137.8,790.2 145.0,786.0 C152.2,781.8 156.1,777.3 161.7,773.3 C167.2,769.2 172.8,764.8 178.3,761.7 C183.9,758.7 189.4,756.8 195.0,755.0 C200.6,753.2 206.1,752.7 211.7,750.7 C217.2,748.8 222.8,746.5 228.3,743.3 C233.9,740.1 240.3,734.8 245.0,731.7 C249.7,728.7 252.0,727.5 256.7,725.0 C261.4,722.5 267.8,718.9 273.3,716.7 C278.9,714.5 284.4,713.7 290.0,711.7 C295.6,709.8 301.1,707.8 306.7,705.0 C312.2,702.2 317.8,697.8 323.3,695.0 C328.9,692.2 334.4,690.2 340.0,688.3 C345.6,686.3 351.4,685.2 357.2,683.3 C363.0,681.4 370.6,678.4 375.0,676.7 C379.4,675.0 379.4,675.5 383.9,673.3 C388.3,671.1 395.0,666.6 401.7,663.3 C408.4,660.0 417.0,657.0 423.9,653.3 C430.8,649.6 437.8,644.8 443.3,641.3 C448.8,637.8 452.2,634.9 456.7,632.0 C461.1,629.1 465.6,626.5 470.0,624.0 C474.4,621.5 478.9,619.0 483.3,617.3 C487.8,615.6 492.2,614.8 496.7,613.9 C501.1,613.0 504.4,612.6 510.0,612.0 C515.5,611.4 523.4,611.2 530.0,610.1 C536.6,609.0 541.8,607.2 549.9,605.2 C558.0,603.2 570.7,600.2 578.4,598.1 C586.1,596.0 589.7,595.5 596.2,592.4 C602.7,589.2 608.5,585.2 617.5,579.2 C626.5,573.2 644.8,560.0 650.3,556.1" fill="none" stroke="#ffc000" stroke-width="3.6" stroke-linejoin="round"/>
<polyline points="57.3,754.0 66.7,752.7 82.7,750.0 100.0,735.0 116.7,716.7 133.3,696.7 145.0,685.0 161.7,668.3 178.3,656.7 195.4,652.3 212.0,650.5 223.0,646.8 237.8,640.6 247.0,632.6 255.3,628.0 266.2,633.2 274.8,637.0 288.3,651.7 300.0,658.5 323.3,660.0 335.0,657.8 346.1,652.9 357.2,648.9 368.3,642.2 379.4,633.3 390.6,622.2 401.7,612.2 412.8,607.8 423.9,603.3 430.0,600.0 443.3,584.0 452.7,569.3 462.0,558.7 472.7,550.7 487.3,541.3 496.7,542.7 510.0,548.0 520.7,551.5 530.0,552.5 542.8,558.9 560.6,557.9 578.4,550.7 596.2,540.0 610.4,525.8 628.2,506.3 649.6,483.1" fill="none" stroke="#000" stroke-opacity="0.11" stroke-width="1" stroke-linejoin="round"/>
<polyline points="57.3,704.0 66.7,702.7 75.0,698.3 82.7,693.3 90.7,665.0 96.7,635.0 105.0,600.0 111.0,582.0 118.0,564.0 127.0,550.0 135.0,540.0 143.0,530.0 152.0,525.6 161.0,523.6 169.0,525.0 182.0,531.0 195.0,537.0 205.0,537.4 221.0,540.0 238.0,544.4 246.6,541.6 262.0,543.6 272.0,546.4 281.0,556.0 289.0,568.0 298.0,577.0 307.0,581.6 315.0,587.6 324.0,584.4 332.0,575.6 341.0,564.4 349.0,561.0 358.0,558.0 366.0,541.0 375.0,535.6 384.0,523.0 392.0,492.0 401.0,480.0 410.0,473.6 418.0,471.0 425.0,464.9 435.2,451.1 444.4,435.0 452.7,433.2 461.0,436.3 469.3,439.4 478.5,445.5 487.4,449.2 496.1,448.3 504.4,441.8 513.2,436.3 521.9,433.5 530.2,431.3 539.1,428.4 547.2,428.4 556.1,423.9 564.4,426.5 573.6,418.8 581.9,404.9 590.2,396.2 598.5,380.0 606.7,346.7 615.0,321.7 625.0,286.7 633.3,253.3 641.7,223.3 650.7,206.7" fill="none" stroke="#2f9696" stroke-width="1.3" stroke-linejoin="round"/>
<polyline points="57.3,804.3 66.7,804.3 82.7,806.7 91.7,828.3 100.0,840.0 108.3,851.7 118.3,860.0 126.0,857.3 135.0,850.7 143.3,846.0 160.0,820.0 178.3,793.3 195.0,768.3 203.3,768.3 215.0,762.7 230.0,746.7 245.0,725.0 255.0,713.3 266.7,723.3 280.0,730.0 293.3,739.3 306.7,738.3 315.0,735.0 328.3,741.7 341.7,745.6 358.3,738.9 367.2,744.0 375.0,738.9 383.9,735.6 392.8,747.1 401.7,744.0 426.1,744.4 435.3,734.7 443.3,730.7 451.3,710.7 460.7,684.0 470.0,665.3 478.5,644.0 487.3,634.1 495.3,636.0 504.7,649.3 514.0,662.7 523.3,670.7 530.0,674.1 539.2,689.5 560.6,690.6 581.9,695.6 589.0,695.6 599.7,702.0 606.9,721.6 615.0,729.3 624.6,742.9 633.3,753.3 642.4,758.2 650.3,757.2" fill="none" stroke="#2f9696" stroke-width="1.3" stroke-linejoin="round"/>
<rect x="735.4" y="457.0" width="80.0" height="288.4" fill="#ffe4e6"/>
<line x1="735.4" y1="457.0" x2="815.4" y2="457.0" stroke="#ff0000" stroke-width="1.3"/>
<line x1="735.4" y1="745.4" x2="815.4" y2="745.4" stroke="#ff0000" stroke-width="1.3"/>
<rect x="815.4" y="294.4" width="80.0" height="400.9" fill="#ffe4e6"/>
<line x1="815.4" y1="294.4" x2="895.4" y2="294.4" stroke="#ff0000" stroke-width="1.3"/>
<line x1="815.4" y1="695.3" x2="895.4" y2="695.3" stroke="#ff0000" stroke-width="1.3"/>
<rect x="895.4" y="218.3" width="78.70000000000005" height="451.90000000000003" fill="#ffe4e6"/>
<line x1="895.4" y1="218.3" x2="974.1" y2="218.3" stroke="#ff0000" stroke-width="1.3"/>
<line x1="895.4" y1="670.2" x2="974.1" y2="670.2" stroke="#ff0000" stroke-width="1.3"/>
<line x1="735.4" y1="594.6" x2="815.4" y2="594.6" stroke="#ff0000" stroke-width="2.8"/>
<line x1="815.4" y1="551.0" x2="895.4" y2="551.0" stroke="#ff0000" stroke-width="2.8"/>
<line x1="895.4" y1="444.4" x2="974.1" y2="444.4" stroke="#ff0000" stroke-width="2.8"/>
<rect x="655.6" y="30.6" width="318.5" height="868.4" fill="none" stroke="#ff0000" stroke-width="1.3"/>
<line x1="735.4" y1="30.6" x2="735.4" y2="899" stroke="#ff0000" stroke-width="1.3"/>
<line x1="735.4" y1="80.8" x2="974.1" y2="80.8" stroke="#ff0000" stroke-width="1.3"/>
<line x1="655.6" y1="110.4" x2="974.1" y2="110.4" stroke="#ff0000" stroke-width="1.3"/>
<line x1="815.4" y1="80.8" x2="815.4" y2="899" stroke="#ff0000" stroke-width="1.3"/>
<line x1="895.4" y1="80.8" x2="895.4" y2="899" stroke="#ff0000" stroke-width="1.3"/>
<text x="661.9" y="67.7" font-size="12.6" fill="#ff0000" font-weight="bold" text-anchor="start" textLength="67.4" lengthAdjust="spacingAndGlyphs" >SUPPORT &amp;</text>
<text x="660.8" y="84.6" font-size="12.6" fill="#ff0000" font-weight="bold" text-anchor="start" textLength="69.8" lengthAdjust="spacingAndGlyphs" >RESISTANCE</text>
<text x="775.7" y="66.5" font-size="29" fill="#ff0000" font-weight="bold" text-anchor="start" textLength="150.3" lengthAdjust="spacingAndGlyphs" >FORECASTS</text>
<text x="759" y="100" font-size="12.6" fill="#ff0000" font-weight="bold" text-anchor="start" textLength="33.1" lengthAdjust="spacingAndGlyphs" >Q4 12</text>
<text x="839.3" y="100" font-size="12.6" fill="#ff0000" font-weight="bold" text-anchor="start" textLength="32.7" lengthAdjust="spacingAndGlyphs" >Q1 13</text>
<text x="919" y="100" font-size="12.6" fill="#ff0000" font-weight="bold" text-anchor="start" textLength="32.6" lengthAdjust="spacingAndGlyphs" >Q2 13</text>
<line x1="655.6" y1="130.1" x2="736.0" y2="130.1" stroke="#5e0a36" stroke-width="2.6"/>
<text x="733.0" y="126.1" font-size="18.9" fill="#5e0a36" font-weight="bold" text-anchor="end" textLength="54.5" lengthAdjust="spacingAndGlyphs" >134.61</text>
<line x1="655.6" y1="194.5" x2="736.0" y2="194.5" stroke="#d9b86a" stroke-width="2.6"/>
<text x="733.0" y="189.8" font-size="18.9" fill="#d9b86a" font-weight="bold" text-anchor="end" textLength="54.5" lengthAdjust="spacingAndGlyphs" >133.59</text>
<line x1="655.6" y1="253.4" x2="736.0" y2="253.4" stroke="#ffc000" stroke-width="2.6"/>
<text x="733.0" y="249.0" font-size="18.9" fill="#ffc000" font-weight="bold" text-anchor="end" textLength="54.5" lengthAdjust="spacingAndGlyphs" >132.64</text>
<line x1="655.6" y1="344.0" x2="736.0" y2="344.0" stroke="#0000ee" stroke-width="2.6"/>
<text x="733.0" y="362.7" font-size="18.9" fill="#0000ee" font-weight="bold" text-anchor="end" textLength="54.5" lengthAdjust="spacingAndGlyphs" >131.19</text>
<line x1="655.6" y1="416.2" x2="736.0" y2="416.2" stroke="#31849b" stroke-width="2.6"/>
<text x="733.0" y="434.4" font-size="18.9" fill="#31849b" font-weight="bold" text-anchor="end" textLength="54.5" lengthAdjust="spacingAndGlyphs" >130.05</text>
<line x1="655.6" y1="488.4" x2="736.0" y2="488.4" stroke="#a8d0d2" stroke-width="2.6"/>
<text x="733.0" y="506.2" font-size="18.9" fill="#a8d0d2" font-weight="bold" text-anchor="end" textLength="54.5" lengthAdjust="spacingAndGlyphs" >128.90</text>
<text x="775.8" y="476.0" font-size="18.9" fill="#ff0000" font-weight="normal" text-anchor="middle" textLength="44.4" lengthAdjust="spacingAndGlyphs" >129.4</text>
<text x="776.0" y="589.6" font-size="18.9" fill="#ff0000" font-weight="bold" text-anchor="middle" textLength="44.8" lengthAdjust="spacingAndGlyphs" >127.2</text>
<text x="775.6" y="741.0" font-size="18.9" fill="#ff0000" font-weight="normal" text-anchor="middle" textLength="44.4" lengthAdjust="spacingAndGlyphs" >124.8</text>
<text x="855.45" y="312.5" font-size="18.9" fill="#ff0000" font-weight="normal" text-anchor="middle" textLength="28.3" lengthAdjust="spacingAndGlyphs" >132</text>
<text x="855.8" y="546.4" font-size="18.9" fill="#ff0000" font-weight="bold" text-anchor="middle" textLength="44.4" lengthAdjust="spacingAndGlyphs" >127.9</text>
<text x="855.85" y="690.8" font-size="18.9" fill="#ff0000" font-weight="normal" text-anchor="middle" textLength="44.7" lengthAdjust="spacingAndGlyphs" >125.6</text>
<text x="935.55" y="236.9" font-size="18.9" fill="#ff0000" font-weight="normal" text-anchor="middle" textLength="43.9" lengthAdjust="spacingAndGlyphs" >133.2</text>
<text x="935.95" y="440.1" font-size="18.9" fill="#ff0000" font-weight="bold" text-anchor="middle" textLength="44.5" lengthAdjust="spacingAndGlyphs" >129.6</text>
<text x="935.65" y="665.6" font-size="18.9" fill="#ff0000" font-weight="normal" text-anchor="middle" textLength="28.3" lengthAdjust="spacingAndGlyphs" >126</text>
</svg>
</body></html>
